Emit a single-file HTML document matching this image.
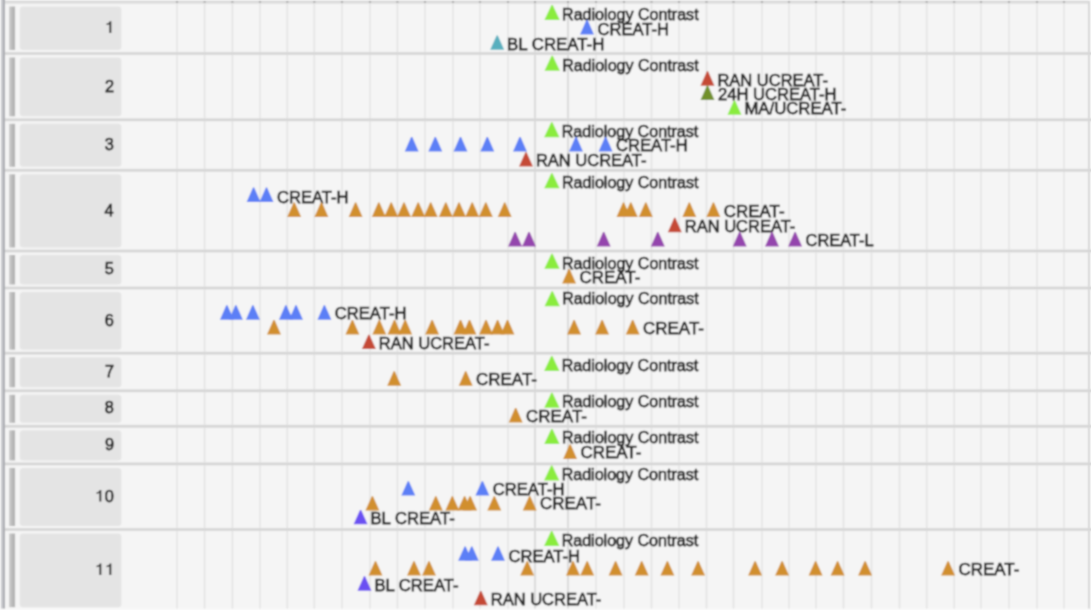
<!DOCTYPE html>
<html><head><meta charset="utf-8"><style>
html,body{margin:0;padding:0;width:1091px;height:610px;overflow:hidden;background:#f5f5f5}
svg{position:absolute;left:0;top:0;display:block}
text{font-family:"Liberation Sans",sans-serif;fill:#222;font-size:16.0px;stroke:#222;stroke-width:0.75px}
text.n{font-size:16.3px}
</style></head><body>
<svg width="1091" height="610" viewBox="0 0 1091 610">
<defs><filter id="bl" filterUnits="userSpaceOnUse" x="0" y="0" width="1091" height="610"><feConvolveMatrix order="5" kernelMatrix="0.00394 0.03142 0.06278 0.03142 0.00394 0.03142 0.25055 0.50055 0.25055 0.03142 0.06278 0.50055 1.00000 0.50055 0.06278 0.03142 0.25055 0.50055 0.25055 0.03142 0.00394 0.03142 0.06278 0.03142 0.00394" divisor="4.52268" edgeMode="duplicate"/></filter></defs>
<g filter="url(#bl)">
<rect x="0" y="0" width="1091" height="610" fill="#f5f5f5"/>
<rect x="0" y="608.6" width="1091" height="1.4" fill="#fafafa"/>
<rect x="0" y="1" width="1091" height="1.5" fill="#d0d0d0"/>
<rect x="0" y="2.5" width="1091" height="1.5" fill="#e2e2e2"/>
<rect x="0" y="0" width="1" height="608.6" fill="#f8f8f8"/>
<rect x="1" y="0" width="2" height="608.6" fill="#c8c9ce"/>
<rect x="3" y="0" width="2" height="608.6" fill="#acadb2"/>
<rect x="1088" y="1" width="2" height="607.6" fill="#d6d6d6"/>
<rect x="1090" y="0" width="1" height="610" fill="#fafafa"/>
<rect x="176.25" y="2" width="1.5" height="606.6" fill="#e3e3e3"/>
<rect x="176" y="1" width="2" height="1.6" fill="#9a9a9a"/>
<rect x="203.85" y="2" width="1.5" height="606.6" fill="#e3e3e3"/>
<rect x="203.6" y="1" width="2" height="1.6" fill="#9a9a9a"/>
<rect x="231.65" y="2" width="1.5" height="606.6" fill="#e3e3e3"/>
<rect x="231.4" y="1" width="2" height="1.6" fill="#9a9a9a"/>
<rect x="259.25" y="2" width="1.5" height="606.6" fill="#e3e3e3"/>
<rect x="259" y="1" width="2" height="1.6" fill="#9a9a9a"/>
<rect x="286.55" y="2" width="1.5" height="606.6" fill="#e3e3e3"/>
<rect x="286.3" y="1" width="2" height="1.6" fill="#9a9a9a"/>
<rect x="313.55" y="2" width="1.5" height="606.6" fill="#e3e3e3"/>
<rect x="313.3" y="1" width="2" height="1.6" fill="#9a9a9a"/>
<rect x="341.25" y="2" width="1.5" height="606.6" fill="#e3e3e3"/>
<rect x="341" y="1" width="2" height="1.6" fill="#9a9a9a"/>
<rect x="369.25" y="2" width="1.5" height="606.6" fill="#e3e3e3"/>
<rect x="369" y="1" width="2" height="1.6" fill="#9a9a9a"/>
<rect x="396.65" y="2" width="1.5" height="606.6" fill="#e3e3e3"/>
<rect x="396.4" y="1" width="2" height="1.6" fill="#9a9a9a"/>
<rect x="424.25" y="2" width="1.5" height="606.6" fill="#e3e3e3"/>
<rect x="424" y="1" width="2" height="1.6" fill="#9a9a9a"/>
<rect x="452.25" y="2" width="1.5" height="606.6" fill="#e3e3e3"/>
<rect x="452" y="1" width="2" height="1.6" fill="#9a9a9a"/>
<rect x="479.25" y="2" width="1.5" height="606.6" fill="#e3e3e3"/>
<rect x="479" y="1" width="2" height="1.6" fill="#9a9a9a"/>
<rect x="507.25" y="2" width="1.5" height="606.6" fill="#e3e3e3"/>
<rect x="507" y="1" width="2" height="1.6" fill="#9a9a9a"/>
<rect x="534.25" y="2" width="1.5" height="606.6" fill="#d2d2d2"/>
<rect x="534" y="1" width="2" height="1.6" fill="#9a9a9a"/>
<rect x="567.25" y="2" width="1.5" height="606.6" fill="#d2d2d2"/>
<rect x="567" y="1" width="2" height="1.6" fill="#9a9a9a"/>
<rect x="595.25" y="2" width="1.5" height="606.6" fill="#e3e3e3"/>
<rect x="595" y="1" width="2" height="1.6" fill="#9a9a9a"/>
<rect x="623.25" y="2" width="1.5" height="606.6" fill="#e3e3e3"/>
<rect x="623" y="1" width="2" height="1.6" fill="#9a9a9a"/>
<rect x="650.75" y="2" width="1.5" height="606.6" fill="#e3e3e3"/>
<rect x="650.5" y="1" width="2" height="1.6" fill="#9a9a9a"/>
<rect x="678.25" y="2" width="1.5" height="606.6" fill="#e3e3e3"/>
<rect x="678" y="1" width="2" height="1.6" fill="#9a9a9a"/>
<rect x="705.75" y="2" width="1.5" height="606.6" fill="#e3e3e3"/>
<rect x="705.5" y="1" width="2" height="1.6" fill="#9a9a9a"/>
<rect x="732.75" y="2" width="1.5" height="606.6" fill="#e3e3e3"/>
<rect x="732.5" y="1" width="2" height="1.6" fill="#9a9a9a"/>
<rect x="761.25" y="2" width="1.5" height="606.6" fill="#e3e3e3"/>
<rect x="761" y="1" width="2" height="1.6" fill="#9a9a9a"/>
<rect x="788.25" y="2" width="1.5" height="606.6" fill="#e3e3e3"/>
<rect x="788" y="1" width="2" height="1.6" fill="#9a9a9a"/>
<rect x="815.25" y="2" width="1.5" height="606.6" fill="#e3e3e3"/>
<rect x="815" y="1" width="2" height="1.6" fill="#9a9a9a"/>
<rect x="842.75" y="2" width="1.5" height="606.6" fill="#e3e3e3"/>
<rect x="842.5" y="1" width="2" height="1.6" fill="#9a9a9a"/>
<rect x="870.75" y="2" width="1.5" height="606.6" fill="#e3e3e3"/>
<rect x="870.5" y="1" width="2" height="1.6" fill="#9a9a9a"/>
<rect x="898.75" y="2" width="1.5" height="606.6" fill="#e3e3e3"/>
<rect x="898.5" y="1" width="2" height="1.6" fill="#9a9a9a"/>
<rect x="925.95" y="2" width="1.5" height="606.6" fill="#e3e3e3"/>
<rect x="925.7" y="1" width="2" height="1.6" fill="#9a9a9a"/>
<rect x="953.45" y="2" width="1.5" height="606.6" fill="#e3e3e3"/>
<rect x="953.2" y="1" width="2" height="1.6" fill="#9a9a9a"/>
<rect x="980.25" y="2" width="1.5" height="606.6" fill="#e3e3e3"/>
<rect x="980" y="1" width="2" height="1.6" fill="#9a9a9a"/>
<rect x="1008.25" y="2" width="1.5" height="606.6" fill="#e3e3e3"/>
<rect x="1008" y="1" width="2" height="1.6" fill="#9a9a9a"/>
<rect x="1036.25" y="2" width="1.5" height="606.6" fill="#e3e3e3"/>
<rect x="1036" y="1" width="2" height="1.6" fill="#9a9a9a"/>
<rect x="1063.25" y="2" width="1.5" height="606.6" fill="#e3e3e3"/>
<rect x="1063" y="1" width="2" height="1.6" fill="#9a9a9a"/>
<rect x="5" y="52" width="1086" height="3" fill="#e2e2e2"/>
<rect x="5" y="52.5" width="1086" height="2" fill="#d4d4d4"/>
<rect x="5" y="118.3" width="1086" height="3" fill="#e2e2e2"/>
<rect x="5" y="118.8" width="1086" height="2" fill="#d4d4d4"/>
<rect x="5" y="168.8" width="1086" height="3" fill="#e2e2e2"/>
<rect x="5" y="169.3" width="1086" height="2" fill="#d4d4d4"/>
<rect x="5" y="249.5" width="1086" height="3" fill="#e2e2e2"/>
<rect x="5" y="250" width="1086" height="2" fill="#d4d4d4"/>
<rect x="5" y="286.5" width="1086" height="3" fill="#e2e2e2"/>
<rect x="5" y="287" width="1086" height="2" fill="#d4d4d4"/>
<rect x="5" y="351.7" width="1086" height="3" fill="#e2e2e2"/>
<rect x="5" y="352.2" width="1086" height="2" fill="#d4d4d4"/>
<rect x="5" y="389.3" width="1086" height="3" fill="#e2e2e2"/>
<rect x="5" y="389.8" width="1086" height="2" fill="#d4d4d4"/>
<rect x="5" y="424.8" width="1086" height="3" fill="#e2e2e2"/>
<rect x="5" y="425.3" width="1086" height="2" fill="#d4d4d4"/>
<rect x="5" y="462.4" width="1086" height="3" fill="#e2e2e2"/>
<rect x="5" y="462.9" width="1086" height="2" fill="#d4d4d4"/>
<rect x="5" y="528" width="1086" height="3" fill="#e2e2e2"/>
<rect x="5" y="528.5" width="1086" height="2" fill="#d4d4d4"/>
<rect x="9.2" y="6.5" width="2" height="43.5" fill="#c6c6c6"/>
<rect x="11.2" y="6.5" width="3.9" height="43.5" fill="#b5b5b5"/>
<rect x="19.8" y="6.5" width="101.6" height="43.5" rx="3.5" ry="3.5" fill="#e4e4e4"/>
<polygon points="111.3,32.9 111.3,21.3 109.8,21.3 109.2,22.3 108.4,23.1 107.4,23.5 106.6,23.6 106.6,25.1 107.6,25 108.5,24.6 109.35,24 109.35,32.9" fill="#222"/>
<rect x="9.2" y="57.5" width="2" height="58.8" fill="#c6c6c6"/>
<rect x="11.2" y="57.5" width="3.9" height="58.8" fill="#b5b5b5"/>
<rect x="19.8" y="57.5" width="101.6" height="58.8" rx="3.5" ry="3.5" fill="#e4e4e4"/>
<text x="104.95" y="91.55" class="n">2</text>
<rect x="9.2" y="123.8" width="2" height="43" fill="#c6c6c6"/>
<rect x="11.2" y="123.8" width="3.9" height="43" fill="#b5b5b5"/>
<rect x="19.8" y="123.8" width="101.6" height="43" rx="3.5" ry="3.5" fill="#e4e4e4"/>
<text x="104.85" y="149.95" class="n">3</text>
<rect x="9.2" y="174.3" width="2" height="73.2" fill="#c6c6c6"/>
<rect x="11.2" y="174.3" width="3.9" height="73.2" fill="#b5b5b5"/>
<rect x="19.8" y="174.3" width="101.6" height="73.2" rx="3.5" ry="3.5" fill="#e4e4e4"/>
<text x="104.61" y="215.55" class="n">4</text>
<rect x="9.2" y="255" width="2" height="29.5" fill="#c6c6c6"/>
<rect x="11.2" y="255" width="3.9" height="29.5" fill="#b5b5b5"/>
<rect x="19.8" y="255" width="101.6" height="29.5" rx="3.5" ry="3.5" fill="#e4e4e4"/>
<text x="104.82" y="274.4" class="n">5</text>
<rect x="9.2" y="292" width="2" height="57.7" fill="#c6c6c6"/>
<rect x="11.2" y="292" width="3.9" height="57.7" fill="#b5b5b5"/>
<rect x="19.8" y="292" width="101.6" height="57.7" rx="3.5" ry="3.5" fill="#e4e4e4"/>
<text x="104.85" y="325.5" class="n">6</text>
<rect x="9.2" y="357.2" width="2" height="30.1" fill="#c6c6c6"/>
<rect x="11.2" y="357.2" width="3.9" height="30.1" fill="#b5b5b5"/>
<rect x="19.8" y="357.2" width="101.6" height="30.1" rx="3.5" ry="3.5" fill="#e4e4e4"/>
<text x="104.95" y="376.9" class="n">7</text>
<rect x="9.2" y="394.8" width="2" height="28" fill="#c6c6c6"/>
<rect x="11.2" y="394.8" width="3.9" height="28" fill="#b5b5b5"/>
<rect x="19.8" y="394.8" width="101.6" height="28" rx="3.5" ry="3.5" fill="#e4e4e4"/>
<text x="104.84" y="413.45" class="n">8</text>
<rect x="9.2" y="430.3" width="2" height="30.1" fill="#c6c6c6"/>
<rect x="11.2" y="430.3" width="3.9" height="30.1" fill="#b5b5b5"/>
<rect x="19.8" y="430.3" width="101.6" height="30.1" rx="3.5" ry="3.5" fill="#e4e4e4"/>
<text x="104.9" y="450" class="n">9</text>
<rect x="9.2" y="467.9" width="2" height="58.1" fill="#c6c6c6"/>
<rect x="11.2" y="467.9" width="3.9" height="58.1" fill="#b5b5b5"/>
<rect x="19.8" y="467.9" width="101.6" height="58.1" rx="3.5" ry="3.5" fill="#e4e4e4"/>
<polygon points="101.3,501.6 101.3,490 99.8,490 99.2,491 98.4,491.8 97.4,492.2 96.6,492.3 96.6,493.8 97.6,493.7 98.5,493.3 99.35,492.7 99.35,501.6" fill="#222"/>
<text x="104.77" y="501.6" class="n">0</text>
<rect x="9.2" y="533.5" width="2" height="73.7" fill="#c6c6c6"/>
<rect x="11.2" y="533.5" width="3.9" height="73.7" fill="#b5b5b5"/>
<rect x="19.8" y="533.5" width="101.6" height="73.7" rx="3.5" ry="3.5" fill="#e4e4e4"/>
<polygon points="101.3,575 101.3,563.4 99.8,563.4 99.2,564.4 98.4,565.2 97.4,565.6 96.6,565.7 96.6,567.2 97.6,567.1 98.5,566.7 99.35,566.1 99.35,575" fill="#222"/>
<polygon points="111.3,575 111.3,563.4 109.8,563.4 109.2,564.4 108.4,565.2 107.4,565.6 106.6,565.7 106.6,567.2 107.6,567.1 108.5,566.7 109.35,566.1 109.35,575" fill="#222"/>
<path d="M544.4 19.9H559.8L552.7 4.9H551.5Z" fill="#8aec3e"/>
<text x="562.08" y="20" textLength="136.52" lengthAdjust="spacingAndGlyphs">Radiology Contrast</text>
<path d="M580 34.5H594L587.6 20.1H586.4Z" fill="#5c7ff6"/>
<text x="597.45" y="34.8" textLength="71.59" lengthAdjust="spacingAndGlyphs">CREAT-H</text>
<path d="M490.2 49.8H504.2L497.8 35.4H496.6Z" fill="#59afbe"/>
<text x="507.12" y="49.5" textLength="97.24" lengthAdjust="spacingAndGlyphs">BL CREAT-H</text>
<path d="M544.5 70.8H559.9L552.8 55.8H551.6Z" fill="#8aec3e"/>
<text x="562.18" y="70.8" textLength="136.52" lengthAdjust="spacingAndGlyphs">Radiology Contrast</text>
<path d="M700.5 85.7H714.5L708.1 71.3H706.9Z" fill="#c54a35"/>
<text x="717.45" y="85.55" textLength="110.58" lengthAdjust="spacingAndGlyphs">RAN UCREAT-</text>
<path d="M700.5 100.1H714.5L708.1 85.7H706.9Z" fill="#71902a"/>
<text x="717.97" y="99.5" textLength="118.48" lengthAdjust="spacingAndGlyphs">24H UCREAT-H</text>
<path d="M727.5 114.8H741.5L735.1 100.4H733.9Z" fill="#8aec3e"/>
<text x="744.43" y="113.8" textLength="101.9" lengthAdjust="spacingAndGlyphs">MA/UCREAT-</text>
<path d="M544.1 137.3H559.5L552.4 122.3H551.2Z" fill="#8aec3e"/>
<text x="561.78" y="136.8" textLength="136.52" lengthAdjust="spacingAndGlyphs">Radiology Contrast</text>
<path d="M404.7 151.4H418.7L412.3 137H411.1Z" fill="#5c7ff6"/>
<path d="M428.3 151.4H442.3L435.9 137H434.7Z" fill="#5c7ff6"/>
<path d="M453.5 151.4H467.5L461.1 137H459.9Z" fill="#5c7ff6"/>
<path d="M480.3 151.4H494.3L487.9 137H486.7Z" fill="#5c7ff6"/>
<path d="M513 151.4H527L520.6 137H519.4Z" fill="#5c7ff6"/>
<path d="M569 151.4H583L576.6 137H575.4Z" fill="#5c7ff6"/>
<path d="M598.6 151.4H612.6L606.2 137H605Z" fill="#5c7ff6"/>
<text x="616.05" y="151.3" textLength="71.59" lengthAdjust="spacingAndGlyphs">CREAT-H</text>
<path d="M519 166.6H533L526.6 152.2H525.4Z" fill="#c54a35"/>
<text x="535.95" y="166.2" textLength="110.58" lengthAdjust="spacingAndGlyphs">RAN UCREAT-</text>
<path d="M544.2 188.25H559.6L552.5 173.25H551.3Z" fill="#8aec3e"/>
<text x="561.88" y="188.05" textLength="136.52" lengthAdjust="spacingAndGlyphs">Radiology Contrast</text>
<path d="M246.6 202H260.6L254.2 187.6H253Z" fill="#5c7ff6"/>
<path d="M259.5 202H273.5L267.1 187.6H265.9Z" fill="#5c7ff6"/>
<text x="276.95" y="202.75" textLength="71.59" lengthAdjust="spacingAndGlyphs">CREAT-H</text>
<path d="M287.2 217H301.2L294.8 202.6H293.6Z" fill="#d18f2f"/>
<path d="M314.4 217H328.4L322 202.6H320.8Z" fill="#d18f2f"/>
<path d="M348.6 217H362.6L356.2 202.6H355Z" fill="#d18f2f"/>
<path d="M371.8 217H385.8L379.4 202.6H378.2Z" fill="#d18f2f"/>
<path d="M384.2 217H398.2L391.8 202.6H390.6Z" fill="#d18f2f"/>
<path d="M397 217H411L404.6 202.6H403.4Z" fill="#d18f2f"/>
<path d="M411.2 217H425.2L418.8 202.6H417.6Z" fill="#d18f2f"/>
<path d="M423.7 217H437.7L431.3 202.6H430.1Z" fill="#d18f2f"/>
<path d="M438.8 217H452.8L446.4 202.6H445.2Z" fill="#d18f2f"/>
<path d="M452 217H466L459.6 202.6H458.4Z" fill="#d18f2f"/>
<path d="M465.2 217H479.2L472.8 202.6H471.6Z" fill="#d18f2f"/>
<path d="M478.8 217H492.8L486.4 202.6H485.2Z" fill="#d18f2f"/>
<path d="M497.7 217H511.7L505.3 202.6H504.1Z" fill="#d18f2f"/>
<path d="M616.5 217H630.5L624.1 202.6H622.9Z" fill="#d18f2f"/>
<path d="M623.8 217H637.8L631.4 202.6H630.2Z" fill="#d18f2f"/>
<path d="M638.8 217H652.8L646.4 202.6H645.2Z" fill="#d18f2f"/>
<path d="M682.3 217H696.3L689.9 202.6H688.7Z" fill="#d18f2f"/>
<path d="M706.4 217H720.4L714 202.6H712.8Z" fill="#d18f2f"/>
<text x="723.84" y="216.7" textLength="60.8" lengthAdjust="spacingAndGlyphs">CREAT-</text>
<path d="M667.8 232.25H681.8L675.4 217.85H674.2Z" fill="#c54a35"/>
<text x="684.75" y="231.9" textLength="110.58" lengthAdjust="spacingAndGlyphs">RAN UCREAT-</text>
<path d="M508.1 246.4H522.1L515.7 232H514.5Z" fill="#9444ad"/>
<path d="M522 246.4H536L529.6 232H528.4Z" fill="#9444ad"/>
<path d="M596.7 246.4H610.7L604.3 232H603.1Z" fill="#9444ad"/>
<path d="M650.8 246.4H664.8L658.4 232H657.2Z" fill="#9444ad"/>
<path d="M732.7 246.4H746.7L740.3 232H739.1Z" fill="#9444ad"/>
<path d="M765 246.4H779L772.6 232H771.4Z" fill="#9444ad"/>
<path d="M788.1 246.4H802.1L795.7 232H794.5Z" fill="#9444ad"/>
<text x="805.56" y="245.9" textLength="67.98" lengthAdjust="spacingAndGlyphs">CREAT-L</text>
<path d="M544.3 268.8H559.7L552.6 253.8H551.4Z" fill="#8aec3e"/>
<text x="561.98" y="268.5" textLength="136.52" lengthAdjust="spacingAndGlyphs">Radiology Contrast</text>
<path d="M562.1 283.5H576.1L569.7 269.1H568.5Z" fill="#d18f2f"/>
<text x="579.54" y="283.1" textLength="60.8" lengthAdjust="spacingAndGlyphs">CREAT-</text>
<path d="M544.5 306.3H559.9L552.8 291.3H551.6Z" fill="#8aec3e"/>
<text x="562.18" y="304.1" textLength="136.52" lengthAdjust="spacingAndGlyphs">Radiology Contrast</text>
<path d="M219.9 319.7H233.9L227.5 305.3H226.3Z" fill="#5c7ff6"/>
<path d="M228.9 319.7H242.9L236.5 305.3H235.3Z" fill="#5c7ff6"/>
<path d="M245.9 319.7H259.9L253.5 305.3H252.3Z" fill="#5c7ff6"/>
<path d="M278.9 319.7H292.9L286.5 305.3H285.3Z" fill="#5c7ff6"/>
<path d="M289 319.7H303L296.6 305.3H295.4Z" fill="#5c7ff6"/>
<path d="M317.4 319.7H331.4L325 305.3H323.8Z" fill="#5c7ff6"/>
<text x="334.85" y="319.43" textLength="71.59" lengthAdjust="spacingAndGlyphs">CREAT-H</text>
<path d="M267 334.4H281L274.6 320H273.4Z" fill="#d18f2f"/>
<path d="M345.4 334.4H359.4L353 320H351.8Z" fill="#d18f2f"/>
<path d="M372.3 334.4H386.3L379.9 320H378.7Z" fill="#d18f2f"/>
<path d="M387.5 334.4H401.5L395.1 320H393.9Z" fill="#d18f2f"/>
<path d="M398.2 334.4H412.2L405.8 320H404.6Z" fill="#d18f2f"/>
<path d="M425.1 334.4H439.1L432.7 320H431.5Z" fill="#d18f2f"/>
<path d="M453.5 334.4H467.5L461.1 320H459.9Z" fill="#d18f2f"/>
<path d="M462.5 334.4H476.5L470.1 320H468.9Z" fill="#d18f2f"/>
<path d="M479 334.4H493L486.6 320H485.4Z" fill="#d18f2f"/>
<path d="M490.6 334.4H504.6L498.2 320H497Z" fill="#d18f2f"/>
<path d="M500.5 334.4H514.5L508.1 320H506.9Z" fill="#d18f2f"/>
<path d="M567.1 334.4H581.1L574.7 320H573.5Z" fill="#d18f2f"/>
<path d="M595.1 334.4H609.1L602.7 320H601.5Z" fill="#d18f2f"/>
<path d="M625.7 334.4H639.7L633.3 320H632.1Z" fill="#d18f2f"/>
<text x="643.14" y="333.9" textLength="60.8" lengthAdjust="spacingAndGlyphs">CREAT-</text>
<path d="M361.9 349.1H375.9L369.5 334.7H368.3Z" fill="#c54a35"/>
<text x="378.85" y="348.9" textLength="110.58" lengthAdjust="spacingAndGlyphs">RAN UCREAT-</text>
<path d="M544.1 370.9H559.5L552.4 355.9H551.2Z" fill="#8aec3e"/>
<text x="561.78" y="370.5" textLength="136.52" lengthAdjust="spacingAndGlyphs">Radiology Contrast</text>
<path d="M387.2 385.7H401.2L394.8 371.3H393.6Z" fill="#d18f2f"/>
<path d="M458.7 385.7H472.7L466.3 371.3H465.1Z" fill="#d18f2f"/>
<text x="476.14" y="385.1" textLength="60.8" lengthAdjust="spacingAndGlyphs">CREAT-</text>
<path d="M544.2 407.75H559.6L552.5 392.75H551.3Z" fill="#8aec3e"/>
<text x="561.88" y="407.4" textLength="136.52" lengthAdjust="spacingAndGlyphs">Radiology Contrast</text>
<path d="M508.7 422.45H522.7L516.3 408.05H515.1Z" fill="#d18f2f"/>
<text x="526.14" y="422.1" textLength="60.8" lengthAdjust="spacingAndGlyphs">CREAT-</text>
<path d="M544.2 444H559.6L552.5 429H551.3Z" fill="#8aec3e"/>
<text x="561.88" y="443.3" textLength="136.52" lengthAdjust="spacingAndGlyphs">Radiology Contrast</text>
<path d="M563.1 458.9H577.1L570.7 444.5H569.5Z" fill="#d18f2f"/>
<text x="580.54" y="458" textLength="60.8" lengthAdjust="spacingAndGlyphs">CREAT-</text>
<path d="M544 480.6H559.4L552.3 465.6H551.1Z" fill="#8aec3e"/>
<text x="561.68" y="480.2" textLength="136.52" lengthAdjust="spacingAndGlyphs">Radiology Contrast</text>
<path d="M401.3 495.6H415.3L408.9 481.2H407.7Z" fill="#5c7ff6"/>
<path d="M475.4 495.6H489.4L483 481.2H481.8Z" fill="#5c7ff6"/>
<text x="492.85" y="494.8" textLength="71.59" lengthAdjust="spacingAndGlyphs">CREAT-H</text>
<path d="M365.4 510.6H379.4L373 496.2H371.8Z" fill="#d18f2f"/>
<path d="M428.8 510.6H442.8L436.4 496.2H435.2Z" fill="#d18f2f"/>
<path d="M445.3 510.6H459.3L452.9 496.2H451.7Z" fill="#d18f2f"/>
<path d="M457.6 510.6H471.6L465.2 496.2H464Z" fill="#d18f2f"/>
<path d="M463.1 510.6H477.1L470.7 496.2H469.5Z" fill="#d18f2f"/>
<path d="M487.3 510.6H501.3L494.9 496.2H493.7Z" fill="#d18f2f"/>
<path d="M522.7 510.6H536.7L530.3 496.2H529.1Z" fill="#d18f2f"/>
<text x="540.14" y="509.3" textLength="60.8" lengthAdjust="spacingAndGlyphs">CREAT-</text>
<path d="M353.6 524.3H367.6L361.2 509.9H360Z" fill="#6b4ff2"/>
<text x="370.53" y="524.1" textLength="84.19" lengthAdjust="spacingAndGlyphs">BL CREAT-</text>
<path d="M544 546.05H559.4L552.3 531.05H551.1Z" fill="#8aec3e"/>
<text x="561.68" y="545.7" textLength="136.52" lengthAdjust="spacingAndGlyphs">Radiology Contrast</text>
<path d="M458.1 560.8H472.1L465.7 546.4H464.5Z" fill="#5c7ff6"/>
<path d="M464.8 560.8H478.8L472.4 546.4H471.2Z" fill="#5c7ff6"/>
<path d="M491 560.8H505L498.6 546.4H497.4Z" fill="#5c7ff6"/>
<text x="508.45" y="561.75" textLength="71.59" lengthAdjust="spacingAndGlyphs">CREAT-H</text>
<path d="M368.5 575.55H382.5L376.1 561.15H374.9Z" fill="#d18f2f"/>
<path d="M407 575.55H421L414.6 561.15H413.4Z" fill="#d18f2f"/>
<path d="M422 575.55H436L429.6 561.15H428.4Z" fill="#d18f2f"/>
<path d="M520.2 575.55H534.2L527.8 561.15H526.6Z" fill="#d18f2f"/>
<path d="M566 575.55H580L573.6 561.15H572.4Z" fill="#d18f2f"/>
<path d="M580.2 575.55H594.2L587.8 561.15H586.6Z" fill="#d18f2f"/>
<path d="M608.6 575.55H622.6L616.2 561.15H615Z" fill="#d18f2f"/>
<path d="M634.7 575.55H648.7L642.3 561.15H641.1Z" fill="#d18f2f"/>
<path d="M660.4 575.55H674.4L668 561.15H666.8Z" fill="#d18f2f"/>
<path d="M691.1 575.55H705.1L698.7 561.15H697.5Z" fill="#d18f2f"/>
<path d="M748.1 575.55H762.1L755.7 561.15H754.5Z" fill="#d18f2f"/>
<path d="M775.1 575.55H789.1L782.7 561.15H781.5Z" fill="#d18f2f"/>
<path d="M808.6 575.55H822.6L816.2 561.15H815Z" fill="#d18f2f"/>
<path d="M830.6 575.55H844.6L838.2 561.15H837Z" fill="#d18f2f"/>
<path d="M858.1 575.55H872.1L865.7 561.15H864.5Z" fill="#d18f2f"/>
<path d="M941.1 575.55H955.1L948.7 561.15H947.5Z" fill="#d18f2f"/>
<text x="958.54" y="575.2" textLength="60.8" lengthAdjust="spacingAndGlyphs">CREAT-</text>
<path d="M357.5 590.75H371.5L365.1 576.35H363.9Z" fill="#6b4ff2"/>
<text x="374.43" y="591.05" textLength="84.19" lengthAdjust="spacingAndGlyphs">BL CREAT-</text>
<path d="M473.8 605.35H487.8L481.4 590.95H480.2Z" fill="#c54a35"/>
<text x="490.75" y="605" textLength="110.58" lengthAdjust="spacingAndGlyphs">RAN UCREAT-</text>
</g>
</svg>
</body></html>
